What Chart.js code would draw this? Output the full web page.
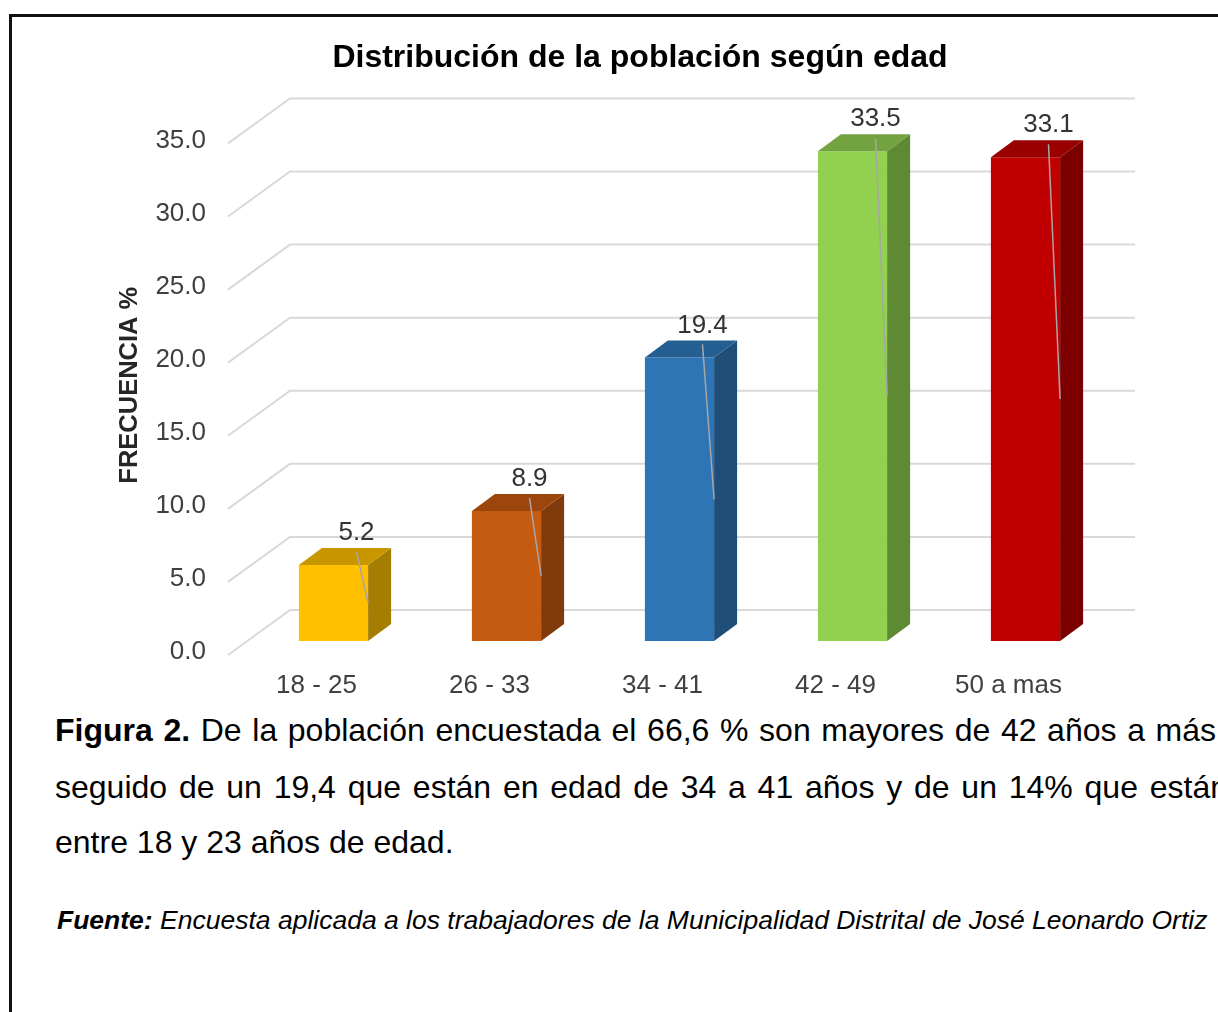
<!DOCTYPE html>
<html>
<head>
<meta charset="utf-8">
<script src="https://cdn.jsdelivr.net/npm/chart.js@4.4.1/dist/chart.umd.min.js"></script>
<style>
  body { margin: 0; background: #fff; width: 1218px; height: 1012px; overflow: hidden; position: relative; font-family: "Liberation Sans", Arial, sans-serif; }
  #frame { position: absolute; left: 9px; top: 14px; width: 1300px; height: 1100px; border-left: 3px solid #111; border-top: 3px solid #111; }
  #wrap { position: absolute; left: 0; top: 0; width: 1218px; height: 700px; }
  .line { position: absolute; left: 55px; font-size: 32px; line-height: 40px; color: #000; white-space: nowrap; }
  .just { white-space: normal; text-align: justify; text-align-last: justify; }
  .src { position: absolute; left: 57px; top: 904px; font-size: 26.5px; line-height: 32px; font-style: italic; color: #000; white-space: nowrap; }
</style>
</head>
<body>
<div id="frame"></div>
<div id="wrap"><canvas id="chart"></canvas></div>
<div class="line just" style="top:710px; width:1161px;"><b>Figura 2.</b> De la población encuestada el 66,6 % son mayores de 42 años a más</div>
<div class="line just" style="top:767px; width:1173px;">seguido de un 19,4 que están en edad de 34 a 41 años y de un 14% que están</div>
<div class="line" style="top:822px;">entre 18 y 23 años de edad.</div>
<div class="src"><b>Fuente:</b> Encuesta aplicada a los trabajadores de la Municipalidad Distrital de José Leonardo Ortiz</div>
<script>
const categories = ['18 - 25', '26 - 33', '34 - 41', '42 - 49', '50 a mas']
const frecuencia = [5.2, 8.9, 19.4, 33.5, 33.1]
const yMin = 0
const yMax = 35
const yStep = 5

// face colours of the 3D bars
const frontColors = ['#ffc000', '#c55a11', '#2e75b6', '#92d050', '#c00000']
const topColors = ['#c89700', '#9c460d', '#255e91', '#72a33f', '#990000']
const sideColors = ['#a57d00', '#803a0b', '#1f4e79', '#5e8a33', '#7c0000']

const FONT = '"Liberation Sans", Arial, sans-serif'
const DX = 23, DY = 17 // bar depth

const depth3d = {
  id: 'depth3d',
  beforeDatasetsDraw (chart) {
    const { ctx, chartArea, scales: { y } } = chart
    ctx.save()
    ctx.strokeStyle = '#d9d9d9'
    ctx.lineWidth = 2
    y.ticks.forEach((t) => {
      const py = y.getPixelForValue(t.value)
      ctx.beginPath()
      ctx.moveTo(chartArea.left - 19, py + 14)
      ctx.lineTo(chartArea.left + 43, py - 31)
      ctx.lineTo(chartArea.right + 23, py - 31)
      ctx.stroke()
    })
    ctx.restore()
  },
  afterDatasetsDraw (chart) {
    const { ctx } = chart
    const meta = chart.getDatasetMeta(0)
    ctx.save()
    meta.data.forEach((bar, i) => {
      const { x, y, base, width } = bar.getProps(['x', 'y', 'base', 'width'], true)
      const l = x - width / 2
      const r = x + width / 2
      // side face
      ctx.fillStyle = sideColors[i]
      ctx.beginPath()
      ctx.moveTo(r, y)
      ctx.lineTo(r + DX, y - DY)
      ctx.lineTo(r + DX, base - DY)
      ctx.lineTo(r, base)
      ctx.closePath()
      ctx.fill()
      // top face
      ctx.fillStyle = topColors[i]
      ctx.beginPath()
      ctx.moveTo(l, y)
      ctx.lineTo(l + DX, y - DY)
      ctx.lineTo(r + DX, y - DY)
      ctx.lineTo(r, y)
      ctx.closePath()
      ctx.fill()
    })
    // leader lines and value labels
    meta.data.forEach((bar, i) => {
      const { x, y, base, width } = bar.getProps(['x', 'y', 'base', 'width'], true)
      const lx = x + 23
      const ly = y - 32
      ctx.strokeStyle = '#a6a6a6'
      ctx.lineWidth = 1.5
      ctx.beginPath()
      ctx.moveTo(lx, ly + 19)
      ctx.lineTo(x + width / 2, (y + base) / 2)
      ctx.stroke()
      ctx.fillStyle = '#333'
      ctx.font = '26px ' + FONT
      ctx.textAlign = 'center'
      ctx.textBaseline = 'middle'
      ctx.fillText(frecuencia[i].toFixed(1), lx, ly)
    })
    ctx.restore()
  }
}

const chart = new Chart(document.getElementById('chart'), {
  type: 'bar',
  data: {
    labels: categories,
    datasets: [{
      data: frecuencia,
      backgroundColor: frontColors,
      borderWidth: 0,
      barPercentage: 0.4,
      categoryPercentage: 1
    }]
  },
  options: {
    responsive: true,
    maintainAspectRatio: false,
    animation: false,
    layout: { padding: { left: 100, right: 38, top: 0, bottom: 0 } },
    plugins: {
      legend: { display: false },
      tooltip: { enabled: false },
      title: {
        display: true,
        text: 'Distribución de la población según edad',
        color: '#000',
        font: { family: FONT, size: 32, weight: 'bold' },
        padding: { top: 39, bottom: 52 }
      }
    },
    scales: {
      x: {
        grid: { display: false, drawTicks: false },
        border: { display: false },
        ticks: { color: '#404040', font: { family: FONT, size: 26 }, padding: 29, labelOffset: -17 },
        afterFit: (s) => { s.height = 59 }
      },
      y: {
        min: yMin,
        max: yMax,
        grid: { display: false, drawTicks: false },
        border: { display: false },
        ticks: {
          stepSize: yStep,
          color: '#404040',
          font: { family: FONT, size: 26 },
          padding: 41,
          labelOffset: 11,
          callback: (v) => v.toFixed(1)
        },
        title: {
          display: true,
          text: 'FRECUENCIA %',
          color: '#262626',
          font: { family: FONT, size: 25.5, weight: 'bold' },
          padding: { top: 15 }
        },
        afterFit: (s) => { s.width = 147 }
      },
      // empty right-hand axis: keeps room for the back wall beyond the bars
      yRight: {
        position: 'right',
        min: yMin,
        max: yMax,
        grid: { display: false, drawTicks: false },
        border: { display: false },
        ticks: { display: false },
        afterFit: (s) => { s.width = 68 }
      }
    }
  },
  plugins: [depth3d]
})
</script>
</body>
</html>
